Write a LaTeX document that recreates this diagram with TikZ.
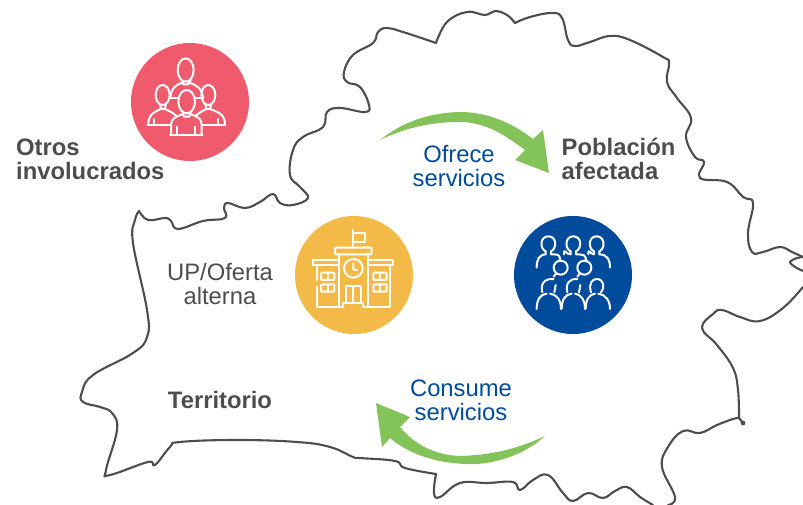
\documentclass[tikz,border=0pt]{standalone}
\usepackage{fontspec}
\setmainfont{Liberation Sans}
\definecolor{grn}{HTML}{84C25A}
\definecolor{pnk}{HTML}{EF5B6D}
\definecolor{ylw}{HTML}{F4BA48}
\definecolor{blu}{HTML}{004B9B}
\definecolor{gry}{HTML}{4D4D4D}
\tikzset{
  outline/.style={draw=gry,line width=2.1pt,line join=round,line cap=round},
  disc/.style={circle,inner sep=0pt,minimum size=118pt},
  lbl/.style={font=\fontsize{23.8}{24}\selectfont,text=gry,inner sep=0pt},
  lblb/.style={lbl,font=\fontsize{23.8}{24}\selectfont\bfseries},
  lblblue/.style={lbl,text=blu},
  ico/.style={draw=white,line width=2pt,line join=round,line cap=round},
  zoomed/.style={x=0.33333pt,y=-0.33333pt}
}
\newcommand{\crowdperson}[6]{% head x,y ; left end x,y ; right end x,y
  \draw[ico] (#1-8,#2+21) .. controls (#1-26,#2+13) and (#1-26,#2-24) .. (#1,#2-24) .. controls (#1+26,#2-24) and (#1+26,#2+13) .. (#1+8,#2+21);
  \draw[ico] (#3,#4) .. controls (#3,#4-22) and (#3+6,#2+31) .. (#1-8,#2+30) -- (#1-8,#2+21);
  \draw[ico] (#5,#6) .. controls (#5,#6-22) and (#5-6,#2+31) .. (#1+8,#2+30) -- (#1+8,#2+21);
}
\begin{document}
\begin{tikzpicture}[x=1pt,y=-1pt]
\useasboundingbox (0,0) rectangle (803,505);
\clip (0,0) rectangle (803,505);
% territory outline
\draw[outline] plot[smooth,tension=0.7] coordinates {(139,211)(148,220)(165,218)(171,221)(178,229)(203,221)(225,218)(224,208)(228,203)(245,208)(260,202)(273,194)(280,203)(293,205)(308,198)(300,187)(290,175)(293,150)(303,137)(323,127)(327,112)(340,108)(365,112)(369,105)(360,87)(347,82)(344,72)(353,55)(373,43)(378,32)(387,28)(403,32)(436,43)};
\draw[outline] plot[smooth,tension=0.7] coordinates {(436,43)(447,22)(467,12)(485,15)(495,11)(507,15)(515,23)};
\draw[outline] plot[smooth,tension=0.7] coordinates {(515,23)(530,17)(552,13)(562,18)(568,40)(575,46)(590,42)(610,36)(630,40)(663,57)(669,63)(667,82)(677,98)(691,118)(686,137)(695,157)(704,162)(700,178)(727,182)(743,197)(753,203)(748,233)(752,252)(763,252)(780,247)(792,252)(803,257)};
\draw[outline] plot[smooth,tension=0.5] coordinates {(803,257)(797,258)(790,262)(795,267)(803,271)};
\draw[outline] plot[smooth,tension=0.7] coordinates {(803,287)(783,308)(760,321)(740,317)(722,310)(713,314)(702,328)(717,345)(733,368)(738,390)(739,418)};
\draw[outline] plot[smooth,tension=0.7] coordinates {(739,418)(733,419)(717,425)(700,433)(683,431)(668,447)(662,467)(675,497)(668,505)};
\fill[gry] (743,423) circle [radius=2.4pt];
\draw[outline] (739,418) -- (743,423);
\draw[outline] plot[smooth,tension=0.7] coordinates {(653,505)(640,497)(627,487)(615,491)(603,498)(588,493)(573,501)(563,493)(548,475)(533,480)(520,490)(513,482)(487,483)(460,483)(440,497)(434,493)(436,474)};
\draw[outline] plot[smooth,tension=0.7] coordinates {(436,474)(405,468)(395,461)(360,458)(353,457)(330,447)(297,442)(237,440)(180,442)(170,447)(155,465)(148,462)(110,475)(106,470)(117,430)(112,413)(100,407)(83,402)(82,392)(93,375)(133,353)(147,337)(147,310)(133,243)(135,220)(139,211)};
% green arrows
\fill[grn] (380,140) .. controls (395,128) and (420,113) .. (460,112) .. controls (490,112) and (515,125) .. (533,139) -- (543,130) -- (549,173) -- (515,160) -- (525,150) .. controls (505,135) and (485,122) .. (460,122) .. controls (430,122) and (405,128) .. (380,140) -- cycle;
\fill[grn] (545,436) .. controls (515,450) and (490,455) .. (460,456) .. controls (435,455) and (415,445) .. (400,427) -- (410,417) -- (376,403) -- (382,447) -- (390,438) .. controls (410,455) and (440,465) .. (477,464) .. controls (505,462) and (530,450) .. (545,436) -- cycle;
% discs
\node[disc,fill=pnk] (pinkdisc) at (190,102) {};
\node[disc,fill=ylw] (yellowdisc) at (354,275) {};
\node[disc,fill=blu] (bluedisc) at (573,275) {};
% stakeholders icon
\begin{scope}[shift={(120,45)},zoomed]
\draw[ico] (197,75) ellipse [x radius=24,y radius=35];
\draw[ico] (185,105)--(190,118)--(205,118)--(212,105);
\draw[ico] (150,160) .. controls (155,130) and (165,118) .. (190,113);
\draw[ico] (250,160) .. controls (245,130) and (230,118) .. (205,113);
\draw[ico] (128,150) ellipse [x radius=21,y radius=30];
\draw[ico] (265,150) ellipse [x radius=21,y radius=30];
\draw[ico] (200,170) ellipse [x radius=25,y radius=35];
\draw[ico] (150,160)--(175,160) (225,160)--(245,160);
\draw[ico] (120,178)--(123,192)--(134,192)--(138,178);
\draw[ico] (256,178)--(259,192)--(270,192)--(274,178);
\draw[ico] (188,203)--(192,215)--(208,215)--(212,203);
\draw[ico] (85,240) .. controls (85,212) and (95,205) .. (122,192);
\draw[ico] (134,192) .. controls (145,197) and (155,200) .. (168,212);
\draw[ico] (315,240) .. controls (315,212) and (305,205) .. (270,192);
\draw[ico] (259,192) .. controls (248,197) and (238,203) .. (228,212);
\draw[ico] (82,240)--(150,240) (245,240)--(315,240) (103,222)--(103,240) (295,222)--(295,240);
\draw[ico] (153,270)--(153,240) .. controls (153,222) and (165,215) .. (190,207);
\draw[ico] (245,270)--(245,240) .. controls (245,222) and (235,215) .. (210,207);
\draw[ico] (150,270)--(248,270) (172,245)--(172,270) (225,245)--(225,270);
\end{scope}
% school icon
\begin{scope}[shift={(285,205)},zoomed]
\draw[ico] (203,75)--(203,128);
\draw[ico] (203,85)--(240,85)--(240,110)--(203,110);
\draw[ico,rounded corners=1pt] (150,128) rectangle (260,148);
\draw[ico] (162,148)--(162,305) (248,148)--(248,305);
\draw[ico] (205,190) circle [radius=28];
\draw[ico] (205,176)--(205,193)--(216,196);
\draw[ico] (158,165)--(85,165)--(85,180)--(158,180);
\draw[ico] (252,165)--(325,165)--(325,180)--(252,180);
\draw[ico] (95,180)--(95,225) (95,245)--(95,305)--(175,305);
\draw[ico] (315,180)--(315,305)--(235,305);
\foreach \wx in {108,265}{
  \draw[ico,rounded corners=1pt] (\wx,203) rectangle (\wx+40,225);
  \draw[ico,rounded corners=1pt] (\wx,238) rectangle (\wx+40,260);
  \draw[ico] (\wx+20,203)--(\wx+20,225) (\wx+20,238)--(\wx+20,260);
}
\draw[ico] (183,293)--(183,243)--(228,243)--(228,293) (205,243)--(205,293);
\draw[ico] (175,305)--(175,293)--(235,293)--(235,305);
\end{scope}
% crowd icon
\begin{scope}[shift={(505,205)},zoomed]
\crowdperson{130}{118}{95}{188}{165}{168}
\crowdperson{205}{118}{177}{148}{243}{170}
\crowdperson{275}{118}{250}{148}{315}{188}
\draw[ico] (167,188) circle [radius=21];
\draw[ico] (238,188) circle [radius=21];
\draw[ico] (153,206)--(146,215) (224,206)--(217,215);
\draw[ico] (112,262) .. controls (105,235) and (120,220) .. (146,222);
\draw[ico] (148,262) -- (152,240);
\draw[ico] (187,262) .. controls (180,235) and (195,220) .. (217,222);
\draw[ico] (222,262) -- (226,240);
\draw[ico] (258,262) .. controls (250,235) and (262,222) .. (275,222) .. controls (298,222) and (300,250) .. (288,262);
\draw[ico] (95,312) .. controls (95,285) and (105,268) .. (125,266) (135,266) .. controls (155,268) and (168,285) .. (168,312);
\draw[ico] (170,312) .. controls (170,285) and (180,268) .. (200,266) (210,266) .. controls (228,268) and (240,285) .. (240,312);
\draw[ico] (242,312) .. controls (242,285) and (252,268) .. (270,266) (280,266) .. controls (300,268) and (315,285) .. (315,312);
\end{scope}
% labels
\node[lblb,align=left,anchor=west] (otros) at (16,159.5) {Otros\\involucrados};
\node[lblb,align=left,anchor=west] (poblacion) at (561.5,159) {Población\\afectada};
\node[lblblue,align=center] (ofrece) at (459,166) {Ofrece\\servicios};
\node[lbl,align=center] (up) at (220,283.5) {UP/Oferta\\alterna};
\node[lblb] (territorio) at (220,400) {Territorio};
\node[lblblue,align=center] (consume) at (461,400) {Consume\\servicios};
\end{tikzpicture}
\end{document}
